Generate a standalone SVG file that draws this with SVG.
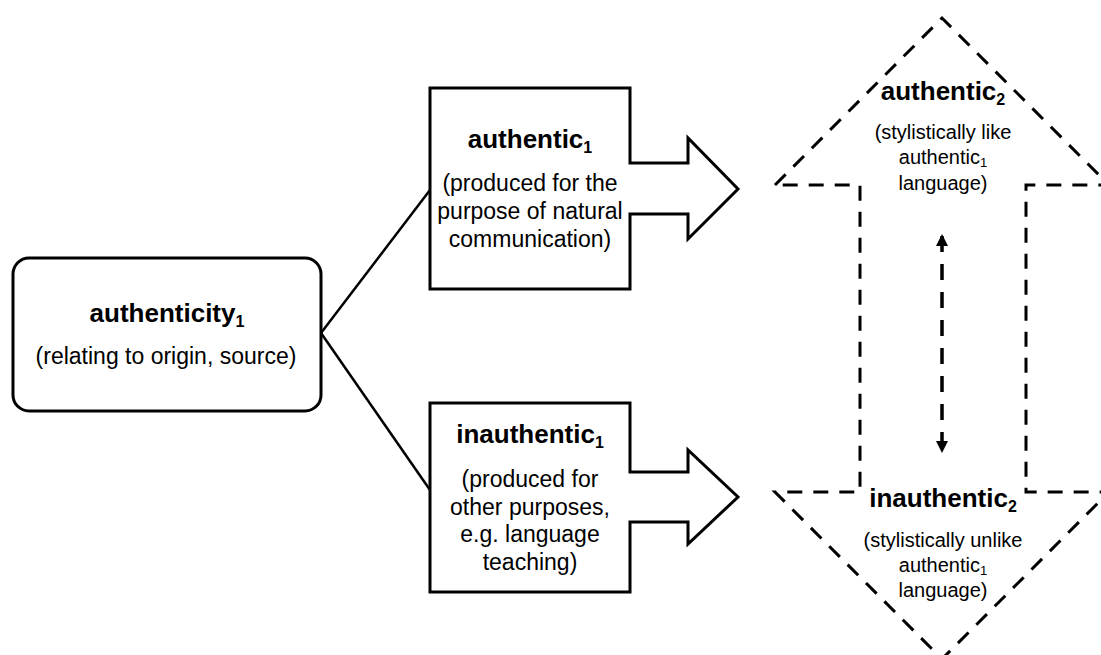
<svg xmlns="http://www.w3.org/2000/svg" width="1101" height="655" viewBox="0 0 1101 655">
  <style>
    .box { fill: #fff; stroke: #000; stroke-width: 3; stroke-linejoin: miter; }
    .link { fill: none; stroke: #000; stroke-width: 2.5; }
    .dash { fill: none; stroke: #000; stroke-width: 3; stroke-dasharray: 15 11; }
    .head { font-family: "Liberation Sans", Arial, sans-serif; font-weight: bold; font-size: 26px; fill: #000; text-anchor: middle; }
    .body { font-family: "Liberation Sans", Arial, sans-serif; font-size: 23px; fill: #000; text-anchor: middle; }
    .small { font-family: "Liberation Sans", Arial, sans-serif; font-size: 20px; fill: #000; text-anchor: middle; }
  </style>
  <defs>
    <marker id="tip" viewBox="0 0 12 12" refX="10" refY="6" markerWidth="12" markerHeight="12" markerUnits="userSpaceOnUse" orient="auto-start-reverse">
      <path d="M0,0 L12,6 L0,12 Z" fill="#000"/>
    </marker>
  </defs>
  <rect width="1101" height="655" fill="#fff"/>

  <!-- connectors -->
  <g id="connectors">
    <path class="link" d="M321,333 L430,190"/>
    <path class="link" d="M321,333 L430,490"/>
    <path d="M942,236 V451" fill="none" stroke="#000" stroke-width="3.5" stroke-dasharray="16 12" marker-start="url(#tip)" marker-end="url(#tip)"/>
  </g>

  <!-- root concept -->
  <g id="authenticity1">
    <rect class="box" x="13" y="258" width="308" height="153" rx="16"/>
    <text class="head" x="167" y="322">authenticity<tspan font-size="16" dy="5">1</tspan></text>
    <text class="body" x="166" y="364" font-size="24.5">(relating to origin, source)</text>
  </g>

  <!-- authentic1 block arrow -->
  <g id="authentic1">
    <path class="box" d="M430,88 H630 V163 H688 V138 L738,189 L688,239 V214 H630 V289 H430 Z"/>
    <text class="head" x="530" y="148">authentic<tspan font-size="16" dy="5">1</tspan></text>
    <text class="body" x="530" y="191">(produced for the</text>
    <text class="body" x="530" y="219">purpose of natural</text>
    <text class="body" x="530" y="247">communication)</text>
  </g>

  <!-- inauthentic1 block arrow -->
  <g id="inauthentic1">
    <path class="box" d="M430,403 H630 V472 H688 V450 L738,497 L688,544 V522 H630 V592 H430 Z"/>
    <text class="head" x="530" y="443">inauthentic<tspan font-size="16" dy="5">1</tspan></text>
    <text class="body" x="530" y="487">(produced for</text>
    <text class="body" x="530" y="515">other purposes,</text>
    <text class="body" x="530" y="542">e.g. language</text>
    <text class="body" x="530" y="570">teaching)</text>
  </g>

  <!-- dashed double-headed scale -->
  <g id="scale">
    <path class="dash" d="M775,185 L942,18 L1109,185 H1026 V492 H1109 L942,659 L775,492 H860 V185 Z"/>
  </g>

  <g id="authentic2">
    <text class="head" x="943" y="100">authentic<tspan font-size="16" dy="5">2</tspan></text>
    <text class="small" x="943" y="139">(stylistically like</text>
    <text class="small" x="943" y="164">authentic<tspan font-size="13" dy="3">1</tspan></text>
    <text class="small" x="943" y="190">language)</text>
  </g>

  <g id="inauthentic2">
    <text class="head" x="943" y="507">inauthentic<tspan font-size="16" dy="5">2</tspan></text>
    <text class="small" x="943" y="547">(stylistically unlike</text>
    <text class="small" x="943" y="572">authentic<tspan font-size="13" dy="3">1</tspan></text>
    <text class="small" x="943" y="597">language)</text>
  </g>
</svg>
